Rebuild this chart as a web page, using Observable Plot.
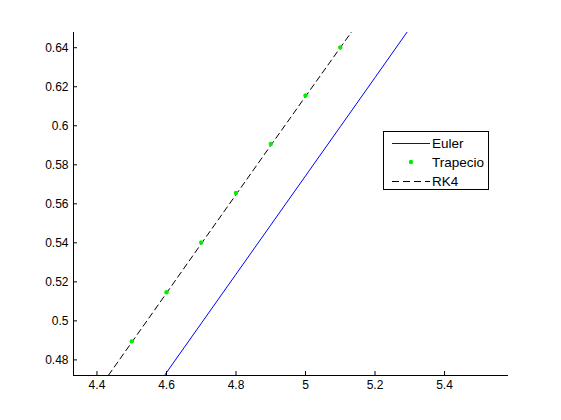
<!DOCTYPE html>
<html>
<head>
<meta charset="utf-8">
<script src="https://cdn.jsdelivr.net/npm/d3@7"></script>
<script src="https://cdn.jsdelivr.net/npm/@observablehq/plot@0.6"></script>
<style>
  html, body { margin: 0; padding: 0; background: #fff; }
  #wrap { position: relative; width: 561px; height: 420px; font-family: "Liberation Sans", Arial, sans-serif; }
  #legend { position: absolute; left: 383px; top: 131px; width: 106px; height: 59px; border: 1px solid #000; background: #fff; box-sizing: border-box; font-size: 13.5px; }
  .row { position: absolute; left: 0; height: 18px; display: flex; align-items: center; }
  .row svg { display: block; }
  .row span { margin-left: 1px; }
</style>
</head>
<body>
<div id="wrap">
  <div id="chart"></div>
  <div id="legend"></div>
</div>
<script>
// Data
const xTicks = [4.4, 4.6, 4.8, 5.0, 5.2, 5.4];
const yTicks = [0.48, 0.50, 0.52, 0.54, 0.56, 0.58, 0.60, 0.62, 0.64];
const xDomain = [4.3325, 5.584];
const yDomain = [0.472, 0.6478];

const eulerX = [4.5, 4.6, 4.7, 4.8, 4.9, 5.0, 5.1, 5.2, 5.3];
const eulerY = [0.4483, 0.4735, 0.4987, 0.5239, 0.5491, 0.5743, 0.5995, 0.6247, 0.6500];

const trapX = [4.5, 4.6, 4.7, 4.8, 4.9, 5.0, 5.1];
const trapY = [0.4895, 0.5147, 0.5402, 0.5655, 0.5907, 0.6155, 0.6401];

const rk4X = [4.4, 4.5, 4.6, 4.7, 4.8, 4.9, 5.0, 5.1, 5.2];
const rk4Y = [0.4638, 0.4890, 0.5142, 0.5395, 0.5647, 0.5899, 0.6150, 0.6400, 0.6650];

const seriesNames = ["Euler", "Trapecio", "RK4"];
const colors = {Euler: "#0000ff", Trapecio: "#00ee00", RK4: "#000000"};

const euler = eulerX.map((x, i) => ({x, y: eulerY[i]}));
const trap = trapX.map((x, i) => ({x, y: trapY[i]}));
const rk4 = rk4X.map((x, i) => ({x, y: rk4Y[i]}));

const chart = Plot.plot({
  width: 561,
  height: 420,
  marginLeft: 73,
  marginRight: 53,
  marginTop: 32,
  marginBottom: 45,
  style: {fontFamily: "'Liberation Sans', Arial, sans-serif", fontSize: "12px", color: "#000", background: "#fff"},
  x: {domain: xDomain, ticks: xTicks, tickFormat: d => String(+d.toFixed(1)), label: null},
  y: {domain: yDomain, ticks: yTicks, tickFormat: d => String(+d.toFixed(2)), label: null},
  marks: [
    Plot.line(euler, {x: "x", y: "y", stroke: colors.Euler, strokeWidth: 1, clip: true}),
    Plot.line(rk4, {x: "x", y: "y", stroke: colors.RK4, strokeWidth: 1, strokeDasharray: "6,4", clip: true}),
    Plot.dot(trap, {x: "x", y: "y", fill: colors.Trapecio, r: 2.2, stroke: null}),
    Plot.ruleX([xDomain[0]], {stroke: "#000"}),
    Plot.ruleY([yDomain[0]], {stroke: "#000"}),
    Plot.axisX({ticks: xTicks, tickSize: -4, tickPadding: 9, tickFormat: d => String(+d.toFixed(1)), label: null}),
    Plot.axisY({ticks: yTicks, tickSize: -4, tickPadding: 9, tickFormat: d => String(+d.toFixed(2)), label: null})
  ]
});
document.getElementById("chart").appendChild(chart);

// Legend
const legend = document.getElementById("legend");
seriesNames.forEach((name, i) => {
  const row = document.createElement("div");
  row.className = "row";
  row.style.top = (2 + i * 19) + "px";
  row.style.left = "7px";
  const ns = "http://www.w3.org/2000/svg";
  const svg = document.createElementNS(ns, "svg");
  svg.setAttribute("width", 40);
  svg.setAttribute("height", 18);
  if (name === "Trapecio") {
    const c = document.createElementNS(ns, "circle");
    c.setAttribute("cx", 20); c.setAttribute("cy", 9); c.setAttribute("r", 2.2);
    c.setAttribute("fill", colors[name]);
    svg.appendChild(c);
  } else {
    const l = document.createElementNS(ns, "line");
    l.setAttribute("x1", 1); l.setAttribute("x2", 39);
    l.setAttribute("y1", 9.5); l.setAttribute("y2", 9.5);
    l.setAttribute("stroke", colors[name]);
    if (name === "RK4") l.setAttribute("stroke-dasharray", "7,4");
    svg.appendChild(l);
  }
  row.appendChild(svg);
  const s = document.createElement("span");
  s.textContent = name;
  row.appendChild(s);
  legend.appendChild(row);
});
</script>
</body>
</html>
